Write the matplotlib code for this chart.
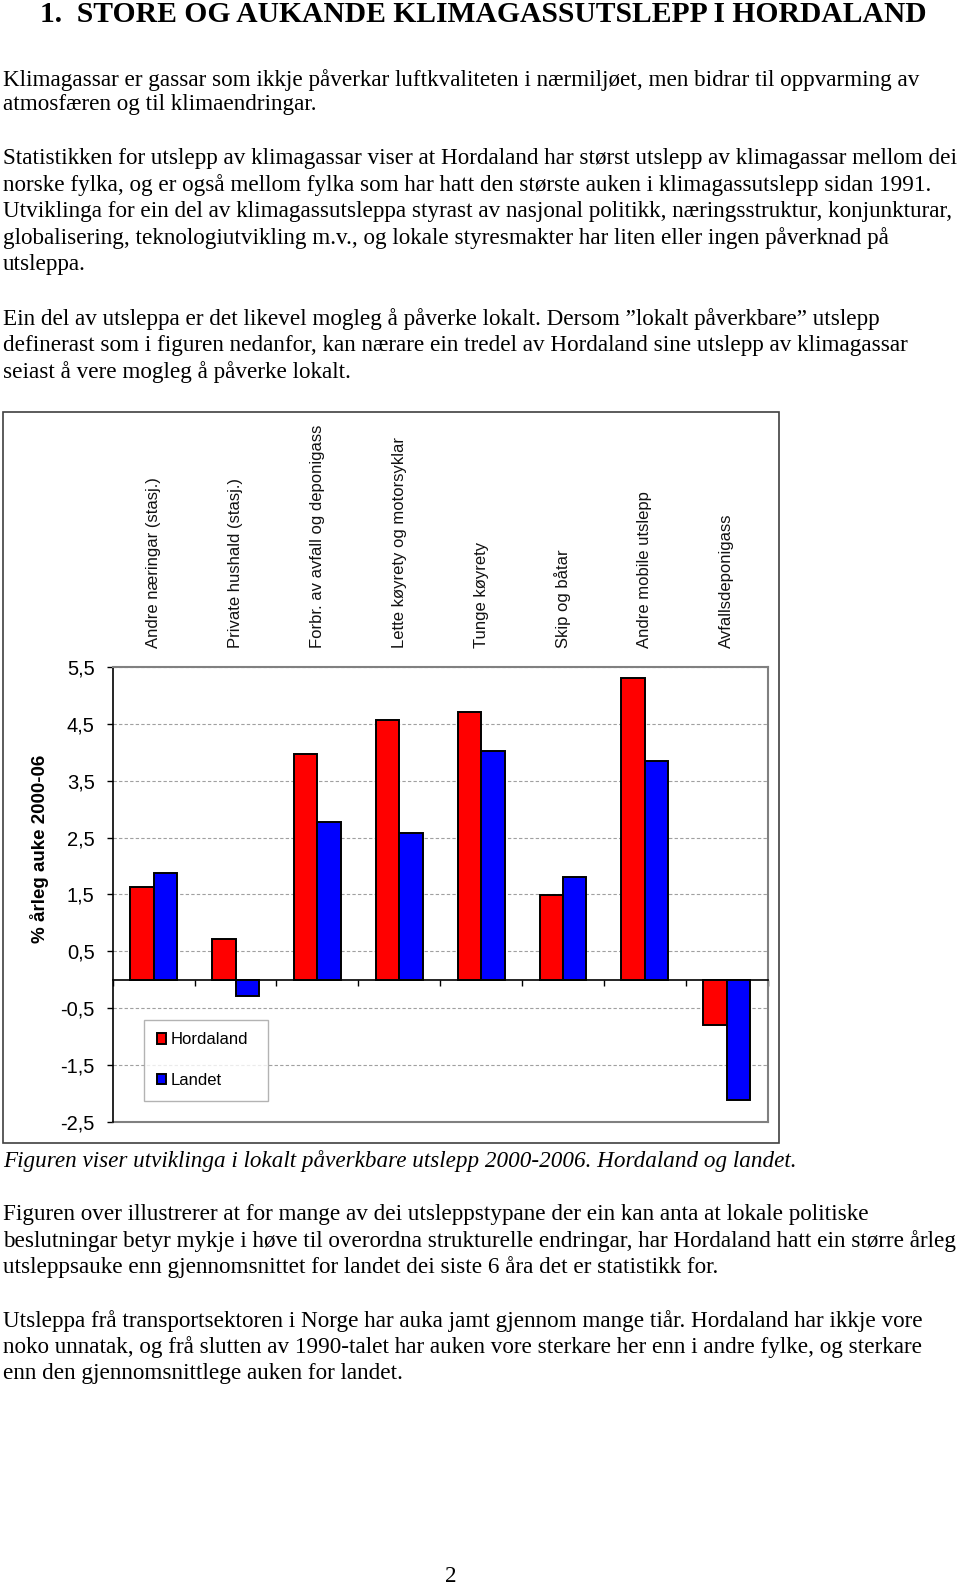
import numpy as np
import matplotlib.pyplot as plt
from matplotlib.patches import Rectangle
from matplotlib.transforms import blended_transform_factory

# chart data
categories = [
    "Andre næringar (stasj.)",
    "Private hushald (stasj.)",
    "Forbr. av avfall og deponigass",
    "Lette køyrety og motorsyklar",
    "Tunge køyrety",
    "Skip og båtar",
    "Andre mobile utslepp",
    "Avfallsdeponigass",
]
hordaland = [1.63, 0.71, 3.97, 4.57, 4.71, 1.49, 5.32, -0.80]
landet = [1.87, -0.28, 2.78, 2.59, 4.02, 1.81, 3.85, -2.12]
y_ticks = [5.5, 4.5, 3.5, 2.5, 1.5, 0.5, -0.5, -1.5, -2.5]

title = "1.  STORE OG AUKANDE KLIMAGASSUTSLEPP I HORDALAND"
para1 = [
    "Klimagassar er gassar som ikkje påverkar luftkvaliteten i nærmiljøet, men bidrar til oppvarming av",
    "atmosfæren og til klimaendringar.",
]
para2 = [
    "Statistikken for utslepp av klimagassar viser at Hordaland har størst utslepp av klimagassar mellom dei",
    "norske fylka, og er også mellom fylka som har hatt den største auken i klimagassutslepp sidan 1991.",
    "Utviklinga for ein del av klimagassutsleppa styrast av nasjonal politikk, næringsstruktur, konjunkturar,",
    "globalisering, teknologiutvikling m.v., og lokale styresmakter har liten eller ingen påverknad på",
    "utsleppa.",
]
para3 = [
    "Ein del av utsleppa er det likevel mogleg å påverke lokalt. Dersom \u201dlokalt påverkbare\u201d utslepp",
    "definerast som i figuren nedanfor, kan nærare ein tredel av Hordaland sine utslepp av klimagassar",
    "seiast å vere mogleg å påverke lokalt.",
]
caption = "Figuren viser utviklinga i lokalt påverkbare utslepp 2000-2006. Hordaland og landet."
para4 = [
    "Figuren over illustrerer at for mange av dei utsleppstypane der ein kan anta at lokale politiske",
    "beslutningar betyr mykje i høve til overordna strukturelle endringar, har Hordaland hatt ein større årleg",
    "utsleppsauke enn gjennomsnittet for landet dei siste 6 åra det er statistikk for.",
]
para5 = [
    "Utsleppa frå transportsektoren i Norge har auka jamt gjennom mange tiår. Hordaland har ikkje vore",
    "noko unnatak, og frå slutten av 1990-talet har auken vore sterkare her enn i andre fylke, og sterkare",
    "enn den gjennomsnittlege auken for landet.",
]

W, H = 960, 1584
fig = plt.figure(figsize=(W / 100, H / 100), dpi=100)
serif = "Liberation Serif"
sans = "Liberation Sans"


def fy(px):
    return 1 - px / H


def put_lines(lines, y0, step=26.4, **kw):
    for k, line in enumerate(lines):
        fig.text(3 / W, fy(y0 + k * step), line, family=serif, fontsize=16.7,
                 va="center", ha="left", **kw)


fig.text(40 / W, fy(15), title, family=serif, fontsize=21.3, weight="bold",
         va="center", ha="left")
put_lines(para1, 79.8, step=24.5)
put_lines(para2, 158.6)
put_lines(para3, 319.3)
put_lines([caption], 1161, style="italic")
put_lines(para4, 1214.6)
put_lines(para5, 1320.7)
fig.text(451 / W, fy(1576), "2", family=serif, fontsize=16.7, va="center", ha="center")

# outer chart frame
fig.patches.append(Rectangle((3.3 / W, fy(1143)), (779 - 3.3) / W, (1143 - 411.7) / H,
                             transform=fig.transFigure, fill=False,
                             edgecolor="#404040", lw=1.2))

# plot area
left, right, top, bottom = 112.7, 767.7, 667.3, 1121.7
ax = fig.add_axes([left / W, fy(bottom), (right - left) / W, (bottom - top) / H])

x = np.arange(len(categories))
w = 0.286
ax.bar(x - w / 2, hordaland, w, color="#FF0000", edgecolor="black", lw=1.4,
       label="Hordaland", zorder=3)
ax.bar(x + w / 2, landet, w, color="#0000FF", edgecolor="black", lw=1.4,
       label="Landet", zorder=3)

ax.set_xlim(-0.5, len(categories) - 0.5)
ax.set_ylim(-2.5, 5.5)
ax.set_yticks(y_ticks)
ax.set_yticklabels([f"{v:.1f}".replace(".", ",") for v in y_ticks],
                   family=sans, fontsize=14.5)
ax.tick_params(axis="y", direction="out", length=4, width=1, pad=9)
ax.yaxis.grid(True, linestyle=(0, (3, 2)), color="#a0a0a0", lw=0.8)
ax.set_axisbelow(True)

# x axis sits at zero with ticks between categories
ax.spines["bottom"].set_position(("data", 0))
ax.spines["bottom"].set_linewidth(1.2)
ax.set_xticks(np.arange(len(categories) + 1) - 0.5)
ax.set_xticklabels([])
ax.tick_params(axis="x", direction="out", length=4, width=1)
ax.axhline(-2.5, color="#808080", lw=1.5, clip_on=False)
for s in ["top", "right"]:
    ax.spines[s].set_color("#808080")
    ax.spines[s].set_linewidth(1.5)
ax.spines["left"].set_linewidth(1.2)

trans = blended_transform_factory(ax.transData, fig.transFigure)
for i, c in enumerate(categories):
    ax.text(i, fy(648), c, transform=trans, rotation=90, ha="center",
            va="bottom", family=sans, fontsize=12, color="#111111")

fig.text(40 / W, fy(849), "% årleg auke 2000-06", rotation=90, family=sans,
         fontsize=13.5, weight="bold", ha="center", va="center")

leg = ax.legend(loc="upper left", bbox_to_anchor=(0.048, 0.224, 0.189, 0.0),
                mode="expand", borderaxespad=0, fancybox=False, frameon=True,
                borderpad=0.75, labelspacing=1.55, handlelength=0.55,
                handleheight=0.55, handletextpad=0.3,
                prop={"family": sans, "size": 12})
leg.get_frame().set_edgecolor("#a0a0a0")
leg.get_frame().set_linewidth(1.0)

plt.savefig("out.png", dpi=100)
plt.close()
